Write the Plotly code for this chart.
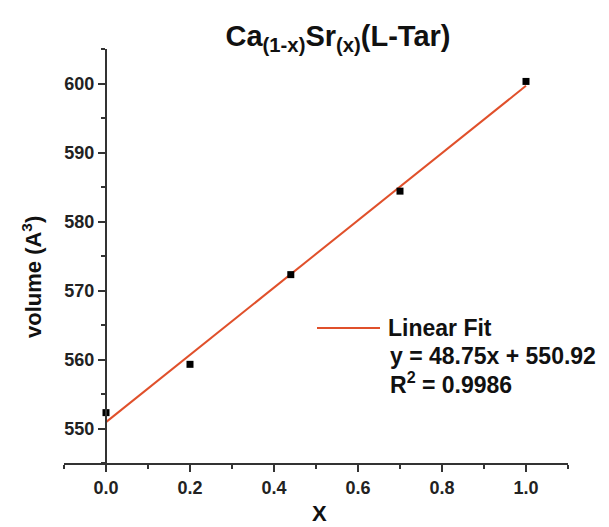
import plotly.graph_objects as go

# ---- data ----
x_frac = [0.0, 0.2, 0.44, 0.7, 1.0]
volume = [552.3, 559.3, 572.3, 584.4, 600.3]
fit_slope = 48.75
fit_intercept = 550.92
fit_x = [0.0, 1.0]
fit_y = [fit_slope * v + fit_intercept for v in fit_x]
r_squared = 0.9986

# page body has an 8px default margin; work in window pixels and offset
OFF = 8
WIN_W, WIN_H = 609, 527
W, H = WIN_W - OFF, WIN_H - OFF
# plot area in window pixels
PX0, PX1 = 64, 568
PY0, PY1 = 49, 463
L, R, T, B = PX0 - OFF, WIN_W - PX1, PY0 - OFF, WIN_H - PY1
FONT = "Liberation Sans, Arial, sans-serif"
AX = "#333333"
RED = "#e0502b"


def px(xp):
    return (xp - PX0) / (PX1 - PX0)


def py(yp):
    return (PY1 - yp) / (PY1 - PY0)


fig = go.Figure()
fig.add_trace(go.Scatter(x=fit_x, y=fit_y, mode="lines",
                         line=dict(color=RED, width=2), showlegend=False))
fig.add_trace(go.Scatter(x=x_frac, y=volume, mode="markers",
                         marker=dict(symbol="square", size=7, color="black"),
                         showlegend=False))

fig.update_layout(
    width=W, height=H,
    margin=dict(l=L, r=R, t=T, b=B, autoexpand=False),
    paper_bgcolor="white", plot_bgcolor="white",
    font=dict(family=FONT, color="#222222"),
    showlegend=False,
    title=dict(text="Ca<sub>(1-x)</sub>Sr<sub>(x)</sub>(L-Tar)",
               x=(338 - OFF) / W, xref="container", xanchor="center",
               y=1 - (36 - OFF) / H, yref="container", yanchor="middle",
               font=dict(size=29, weight="bold", color="#111111", family=FONT)),
    xaxis=dict(range=[-0.1, 1.1], tick0=0, dtick=0.2, tickformat=".1f",
               showgrid=False, zeroline=False,
               showline=True, linecolor=AX, linewidth=2,
               ticks="outside", ticklen=7, tickwidth=2, tickcolor=AX,
               tickfont=dict(size=18, weight="bold", color="#222222"),
               minor=dict(dtick=0.1, tick0=0, ticks="outside", ticklen=4,
                          tickwidth=2, tickcolor=AX, showgrid=False),
               anchor="y"),
    yaxis=dict(range=[545, 605], tick0=550, dtick=10,
               showgrid=False, zeroline=False,
               showline=True, linecolor=AX, linewidth=2,
               ticks="outside", ticklen=7, tickwidth=2, tickcolor=AX,
               tickfont=dict(size=18, weight="bold", color="#222222"),
               minor=dict(dtick=5, tick0=545, ticks="outside", ticklen=4,
                          tickwidth=2, tickcolor=AX, showgrid=False),
               anchor="free", position=0.1 / 1.2),
)

# axis titles
fig.add_annotation(text="volume (A<sup>3</sup>)", xref="paper", yref="paper",
                   x=px(32), y=py(277), textangle=-90, showarrow=False,
                   xanchor="center", yanchor="middle",
                   font=dict(size=22, weight="bold", color="#111111"))
fig.add_annotation(text="X", xref="paper", yref="paper",
                   x=px(319), y=py(513), showarrow=False,
                   xanchor="center", yanchor="middle",
                   font=dict(size=22, weight="bold", color="#111111"))

# legend / fit info
fig.add_shape(type="line", xref="paper", yref="paper",
              x0=px(317), x1=px(380), y0=py(328), y1=py(328),
              line=dict(color=RED, width=2))
fig.add_annotation(text="Linear Fit", xref="paper", yref="paper",
                   x=px(386), y=py(328), showarrow=False,
                   xanchor="left", yanchor="middle",
                   font=dict(size=23, weight="bold", color="#111111"))
fig.add_annotation(text=f"y = {fit_slope:.2f}x + {fit_intercept:.2f}",
                   xref="paper", yref="paper",
                   x=px(388), y=py(356), showarrow=False,
                   xanchor="left", yanchor="middle",
                   font=dict(size=23, weight="bold", color="#111111"))
fig.add_annotation(text=f"R<sup>2</sup> = {r_squared:.4f}",
                   xref="paper", yref="paper",
                   x=px(388), y=py(383), showarrow=False,
                   xanchor="left", yanchor="middle",
                   font=dict(size=23, weight="bold", color="#111111"))

fig.write_html("out.html")
